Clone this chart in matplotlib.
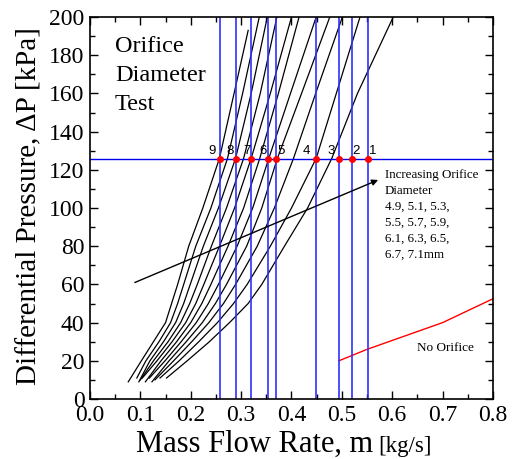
import numpy as np
import matplotlib
matplotlib.use('Agg')
import matplotlib.pyplot as plt
from matplotlib.ticker import MultipleLocator

plt.rcParams['font.family'] = ['Liberation Serif', 'DejaVu Serif']

# pressure levels (kPa) at which the mass flow of every orifice curve was read
dp_levels = [20, 30, 40, 50, 60, 80, 100, 126, 160]
# mass flow (kg/s) of each curve at those levels, 4.9mm ... 7.1mm
m_curves = [
    [0.102, 0.126, 0.150, 0.162, 0.174, 0.196, 0.224, 0.257, 0.286],
    [0.111, 0.137, 0.160, 0.174, 0.186, 0.210, 0.240, 0.273, 0.303],
    [0.119, 0.146, 0.170, 0.186, 0.199, 0.225, 0.255, 0.289, 0.320],
    [0.126, 0.155, 0.180, 0.198, 0.213, 0.241, 0.271, 0.305, 0.338],
    [0.133, 0.163, 0.190, 0.210, 0.226, 0.257, 0.287, 0.320, 0.358],
    [0.141, 0.172, 0.200, 0.222, 0.240, 0.274, 0.305, 0.337, 0.374],
    [0.149, 0.181, 0.211, 0.235, 0.255, 0.292, 0.323, 0.355, 0.398],
    [0.157, 0.191, 0.223, 0.249, 0.271, 0.311, 0.341, 0.372, 0.420],
    [0.166, 0.202, 0.236, 0.265, 0.289, 0.332, 0.366, 0.404, 0.448],
    [0.177, 0.216, 0.253, 0.285, 0.312, 0.358, 0.400, 0.449, 0.489],
    [0.193, 0.237, 0.277, 0.314, 0.341, 0.386, 0.432, 0.480, 0.531],
]
start_m = [0.076, 0.093, 0.097, 0.100, 0.104, 0.110, 0.118, 0.123, 0.129, 0.139, 0.152]
start_dp = [9, 11, 9, 10, 11, 9, 11, 9, 10, 11, 11]
top_m = [0.314, 0.336, 0.352, 0.371, 0.400, 0.415, 0.449, 0.476, 0.501, 0.536, 0.602]
top_dp = [193, 200, 200, 200, 200, 200, 200, 200, 200, 200, 200]

# no orifice case
m_none = [0.494, 0.55, 0.70, 0.80]
dp_none = [20, 26, 40, 52.5]

# reference pressure line and marked flow rates
dp_ref = 125.5
m_marks = [0.258, 0.289, 0.320, 0.353, 0.370, 0.449, 0.494, 0.521, 0.551]
mark_labels = ['9', '8', '7', '6', '5', '4', '3', '2', '1']
label_dx = [-0.016, -0.010, -0.009, -0.009, 0.009, -0.019, -0.016, 0.007, 0.011]

fig = plt.figure(figsize=(5.13, 4.59), dpi=100)
ax = fig.add_axes([0.1754, 0.1307, 0.7856, 0.8322])

for i in range(len(m_curves)):
    xs = [start_m[i]] + m_curves[i] + [top_m[i]]
    ys = [start_dp[i]] + dp_levels + [top_dp[i]]
    ax.plot(xs, ys, color='black', lw=0.9)

ax.plot(m_none, dp_none, color='red', lw=1.0)

ax.axhline(dp_ref, color='#0000ee', lw=1.0)
for m in m_marks:
    ax.axvline(m, color='#3030ff', lw=1.2)
ax.plot(m_marks, [dp_ref] * len(m_marks), 'o', color='red', ms=4, zorder=5)
for m, lab, dx in zip(m_marks, mark_labels, label_dx):
    ax.text(m + dx, dp_ref + 4.5, lab, ha='center', va='center', fontsize=9.5,
            family=['Liberation Sans', 'DejaVu Sans'])

ax.annotate('', xy=(0.572, 114.7), xytext=(0.089, 61),
            arrowprops=dict(arrowstyle='-|>', color='black', lw=1.0,
                            mutation_scale=9, shrinkA=0, shrinkB=0))

ax.text(0.0496, 190, 'Orifice\nDiameter\nTest', fontsize=17.5, va='top', ha='left',
        linespacing=1.5)
ax.text(0.5856, 120.5, 'Increasing Orifice\nDiameter\n4.9, 5.1, 5.3,\n5.5, 5.7, 5.9,\n'
        '6.1, 6.3, 6.5,\n6.7, 7.1mm', fontsize=9.4, va='top', ha='left', linespacing=1.45)
ax.text(0.705, 26.7, 'No Orifice', fontsize=9.5, ha='center', va='center')

ax.set_xlim(0, 0.8)
ax.set_ylim(0, 200)
ax.xaxis.set_major_locator(MultipleLocator(0.1))
ax.xaxis.set_minor_locator(MultipleLocator(0.05))
ax.yaxis.set_major_locator(MultipleLocator(20))
ax.yaxis.set_minor_locator(MultipleLocator(10))
ax.xaxis.set_major_formatter(plt.FuncFormatter(lambda v, p: '%.1f' % v))
ax.tick_params(which='both', direction='in', top=True, right=True, labelsize=17, pad=4)
ax.tick_params(which='major', length=6, width=1)
ax.tick_params(which='minor', length=3.5, width=1)
for s in ax.spines.values():
    s.set_linewidth(1.2)

fig.text(0.727, 0.0153, 'Mass Flow Rate, m', fontsize=22, ha='right', va='baseline')
fig.text(0.737, 0.0153, '[kg/s]', fontsize=16.5, ha='left', va='baseline')
fig.text(0.057, 0.551, 'Differential Pressure, \u0394P [kPa]', fontsize=21,
         rotation=90, ha='center', va='center')

fig.savefig('out.png', dpi=100)
